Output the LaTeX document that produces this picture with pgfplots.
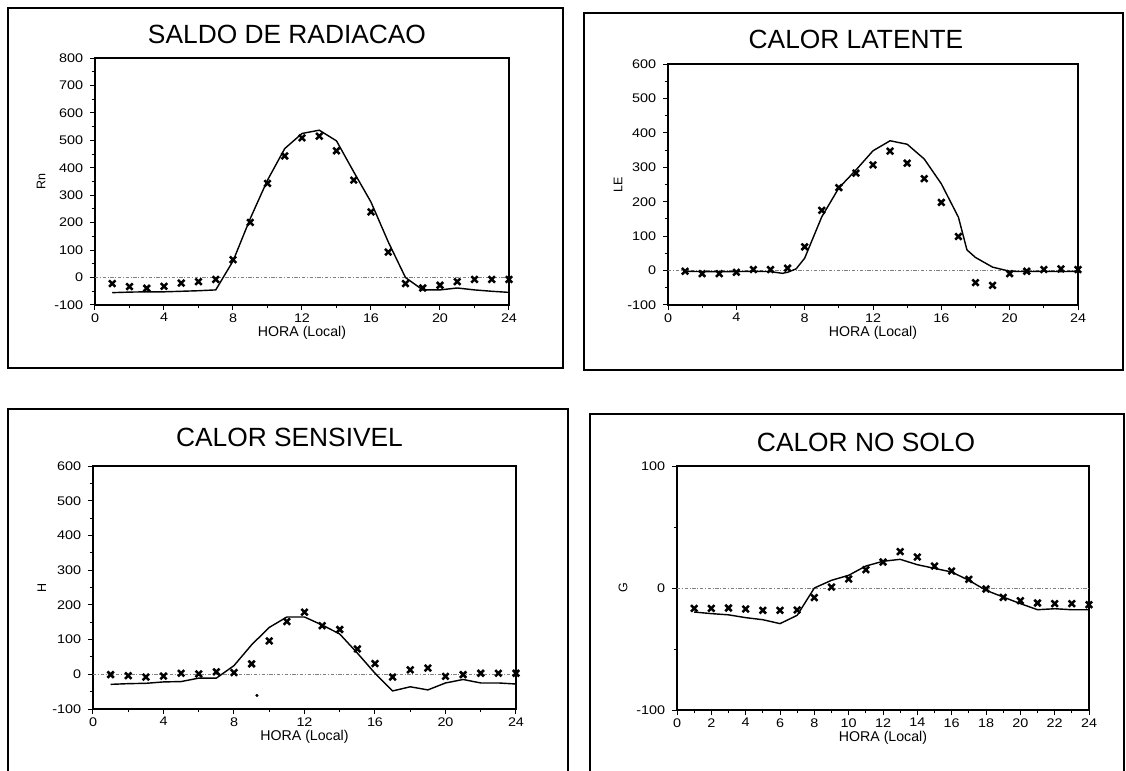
\documentclass[border=0pt]{standalone}
\usepackage{fontspec}
\setmainfont{Liberation Sans}
\usepackage{pgfplots}
\pgfplotsset{compat=1.18}

\pgfplotsset{
  panel/.style={
    scale only axis,
    anchor=south west,
    xmin=0, xmax=24,
    axis line style={line width=0.8pt},
    tick align=outside,
    tick style={black, line width=0.6pt},
    major tick length=3pt,
    minor tick length=2pt,
    xtick pos=bottom, ytick pos=left,
    ticklabel style={font=\fontsize{7.5}{8}\selectfont, xscale=1.15},
    xticklabel style={yshift=1.5pt},
    /pgf/number format/assume math mode=true,
    /pgf/number format/set thousands separator={},
    xlabel={HORA (Local)},
    xlabel style={font=\fontsize{8.5}{9}\selectfont, at={(axis description cs:0.5,0)}, anchor=center, yshift=-16.5pt},
    ylabel style={font=\fontsize{7.5}{9}\selectfont, anchor=center},
    clip=false,
  },
  zeroline/.style={gray, line width=0.4pt, dash pattern=on 2pt off 1pt on 0.6pt off 1pt},
  model/.style={black, line width=0.85pt, no marks},
  obs/.style={only marks, mark=x, mark size=2.7pt, mark options={line width=1.5pt, black}},
}

\begin{document}
\begin{tikzpicture}
\path[use as bounding box] (0,0) rectangle (675.6pt,-462.6pt);

% outer frames
\draw[line width=1.2pt] (4.8pt,-4.8pt) rectangle (337.8pt,-220.8pt);
\draw[line width=1.2pt] (350.4pt,-7.8pt) rectangle (673.8pt,-222pt);
\draw[line width=1.2pt] (340.8pt,-462.6pt) -- (340.8pt,-245.4pt) -- (4.8pt,-245.4pt) -- (4.8pt,-462.6pt);
\draw[line width=1.2pt] (674.4pt,-462.6pt) -- (674.4pt,-248.4pt) -- (354pt,-248.4pt) -- (354pt,-462.6pt);

% titles
\node[font=\fontsize{15.8}{17}\selectfont] at (172.2pt,-20.4pt) {SALDO DE RADIACAO};
\node[font=\fontsize{15.8}{17}\selectfont] at (513.6pt,-23.4pt) {CALOR LATENTE};
\node[font=\fontsize{15.8}{17}\selectfont] at (173.7pt,-262.2pt) {CALOR SENSIVEL};
\node[font=\fontsize{15.8}{17}\selectfont] at (519.6pt,-265.2pt) {CALOR NO SOLO};

% ---------- Panel 1: Rn ----------
\begin{axis}[panel,
  at={(57pt,-183pt)}, width=248.4pt, height=148.2pt,
  ymin=-100, ymax=800, ytick={-100,0,...,800},
  xtick={0,4,...,24}, minor x tick num=1, minor y tick num=1,
  ylabel={Rn}, ylabel style={at={(axis description cs:-0.13,0.5)}}]
\addplot[zeroline] coordinates {(0,0) (24,0)};
\addplot[model] coordinates {
(1,-55) (2,-53) (3,-52) (4,-52) (5,-50) (6,-48) (7,-45) (8,60) (9,215) (10,355)
(11,470) (12,525) (13,537) (14,498) (15,385) (16,275) (17,130) (18,0) (19,-45)
(20,-45) (21,-38) (22,-45) (23,-50) (24,-54)};
\addplot[obs] coordinates {
(1,-22) (2,-33) (3,-39) (4,-32) (5,-20) (6,-15) (7,-7) (8,65) (9,201) (10,343)
(11,443) (12,509) (13,515) (14,462) (15,355) (16,239) (17,93) (18,-22) (19,-38)
(20,-28) (21,-15) (22,-7) (23,-7) (24,-7)};
\end{axis}

% ---------- Panel 2: LE ----------
\begin{axis}[panel,
  at={(400.8pt,-183pt)}, width=246pt, height=144.6pt,
  ymin=-100, ymax=600, ytick={-100,0,...,600},
  xtick={0,4,...,24}, minor x tick num=1, minor y tick num=1,
  ylabel={LE}, ylabel style={at={(axis description cs:-0.122,0.5)}}]
\addplot[zeroline] coordinates {(0,0) (24,0)};
\addplot[model] coordinates {
(1,-2) (2,-3) (3,-3) (4,-3) (5,-2) (6,-3) (6.7,-8) (7,-5) (7.5,5) (8,36) (9,156)
(10,240) (11,292) (12,348) (13,377) (14,367) (15,324) (16,252) (17,155) (17.5,60)
(18,38) (19,10) (20,-2) (21,-3) (22,-2) (23,-3) (24,-2)};
\addplot[obs] coordinates {
(1,-2) (2,-9) (3,-9) (4,-5) (5,3) (6,3) (7,7) (8,69) (9,175) (10,241)
(11,283) (12,307) (13,347) (14,312) (15,267) (16,198) (17,99) (18,-35) (19,-43)
(20,-9) (21,-2) (22,3) (23,5) (24,3)};
\end{axis}

% ---------- Panel 3: H ----------
\begin{axis}[panel,
  at={(55.8pt,-425.4pt)}, width=253.8pt, height=145.8pt,
  ymin=-100, ymax=600, ytick={-100,0,...,600},
  xtick={0,4,...,24}, minor x tick num=1, minor y tick num=1,
  ylabel={H}, ylabel style={at={(axis description cs:-0.121,0.5)}}]
\addplot[zeroline] coordinates {(0,0) (24,0)};
\addplot[model] coordinates {
(1,-29) (2,-27) (3,-26) (4,-22) (5,-21) (6,-11) (7,-11) (8,25) (9,85) (10,135)
(11,165) (12,165) (13,142) (14,116) (15,61) (16,3) (17,-48) (18,-36) (19,-45)
(20,-25) (21,-15) (22,-25) (23,-25) (24,-28)};
\addplot[obs] coordinates {
(1,-1) (2,-4) (3,-8) (4,-5) (5,3) (6,1) (7,7) (8,5) (9,30) (10,96)
(11,152) (12,179) (13,140) (14,129) (15,73) (16,31) (17,-8) (18,13) (19,18)
(20,-6) (21,-1) (22,3) (23,3) (24,3)};
\addplot[only marks, mark=*, mark size=0.7pt, black] coordinates {(9.3,-61)};
\end{axis}

% ---------- Panel 4: G ----------
\begin{axis}[panel,
  at={(406.2pt,-426pt)}, width=247.2pt, height=146.4pt,
  ymin=-100, ymax=100, ytick={-100,0,100}, minor y tick num=1,
  xtick={0,2,...,24}, minor x tick num=1,
  ylabel={G}, ylabel style={at={(axis description cs:-0.131,0.5)}}]
\addplot[zeroline] coordinates {(0,0) (24,0)};
\addplot[model] coordinates {
(1,-19.7) (2,-21) (3,-22) (4,-24.3) (5,-26) (6,-29.2) (7,-22.4) (8,0) (9,6.3) (10,10.4)
(11,18) (12,21.9) (13,23.5) (14,19.1) (15,16.1) (16,13.1) (17,6.3) (18,-1.9) (19,-7.4)
(20,-12.8) (21,-17.8) (22,-17) (23,-17.8) (24,-17.8)};
\addplot[obs] coordinates {
(1,-16.7) (2,-16.7) (3,-16.4) (4,-17.2) (5,-18.3) (6,-18.3) (7,-18) (8,-7.9) (9,0.8) (10,7.4)
(11,15) (12,21.3) (13,29.8) (14,25.4) (15,18) (16,13.9) (17,7.1) (18,-0.8) (19,-7.7)
(20,-10.4) (21,-12.3) (22,-12.8) (23,-12.8) (24,-13.7)};
\end{axis}
\end{tikzpicture}
\end{document}
